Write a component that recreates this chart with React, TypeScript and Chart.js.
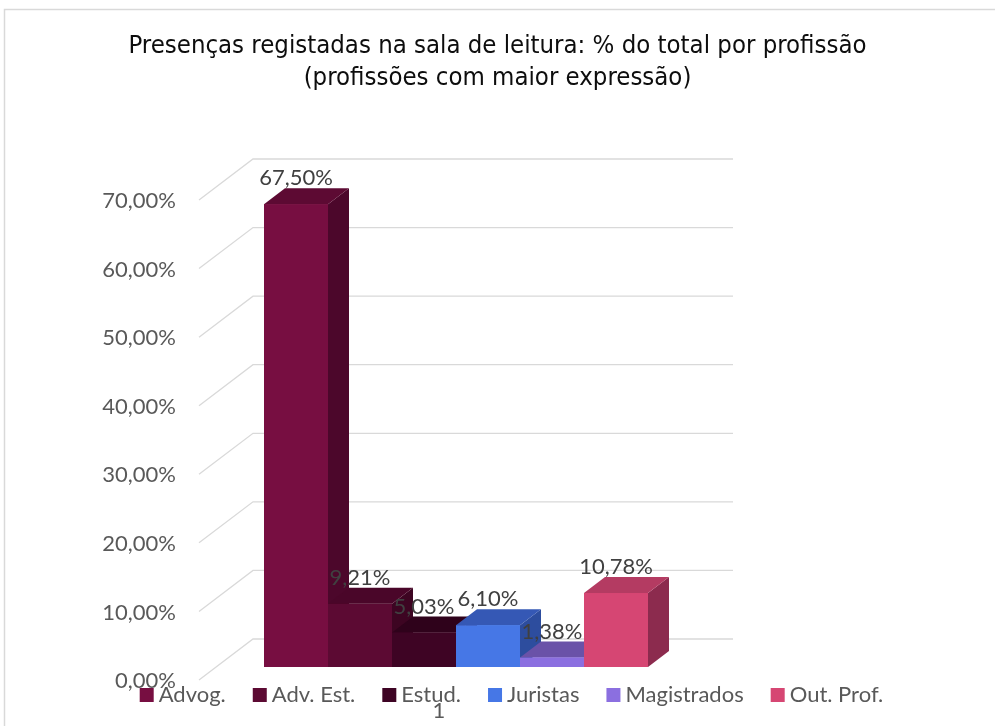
import React, { useEffect, useRef } from 'react';
import { Chart, registerables } from 'chart.js';

Chart.register(...registerables);

// ---------- data ----------
const TITLE_LINES = [
  'Presenças registadas na sala de leitura: % do total por profissão',
  '(profissões com maior expressão)',
];
const CATEGORIES = ['1'];
const SERIES_NAMES = ['Advog.', 'Adv. Est.', 'Estud.', 'Juristas', 'Magistrados', 'Out. Prof.'];
const SERIES_VALUES = [67.5, 9.21, 5.03, 6.1, 1.38, 10.78];
const Y_MIN = 0;
const Y_MAX = 70;
const Y_STEP = 10;

// ---------- styles ----------
const FRONT_COLORS = ['#770e41', '#5c0a33', '#3e0424', '#4677e6', '#8b6fe0', '#d64673'];
const TOP_COLORS = ['#5d0a33', '#4a0629', '#2f021b', '#3558b5', '#6a52a8', '#b43b62'];
const SIDE_COLORS = ['#4c072b', '#3d0522', '#250115', '#2d4d9e', '#5a4590', '#8c2b4e'];

const LABEL_FONT = '22px Lato';
const TITLE_FAMILY = "'DejaVu Sans Condensed', 'DejaVu Sans', sans-serif";

// 3D geometry (pixels)
const DEPTH_X = 21;
const DEPTH_Y = 16;
const BACK_X = 37;
const BACK_Y = 28;
const FRONT_X = -17;
const FRONT_Y = 13;

const fmt = (v: number) => v.toFixed(2).replace('.', ',') + '%';

const threeDPlugin = {
  id: 'threeD',
  beforeDraw(chart: any) {
    const ctx = chart.ctx;
    ctx.save();
    ctx.strokeStyle = '#d9d9d9';
    ctx.lineWidth = 1.5;
    ctx.strokeRect(4.5, 9.5, 1200, 1000);
    ctx.restore();
  },
  beforeDatasetsDraw(chart: any) {
    const { ctx, chartArea } = chart;
    const y = chart.scales.y;
    ctx.save();
    ctx.strokeStyle = '#d9d9d9';
    ctx.lineWidth = 1.3;
    y.ticks.forEach((t: any) => {
      const py = y.getPixelForValue(t.value);
      ctx.beginPath();
      ctx.moveTo(chartArea.left + FRONT_X, py + FRONT_Y);
      ctx.lineTo(chartArea.left + BACK_X, py - BACK_Y);
      ctx.lineTo(chartArea.right + BACK_X, py - BACK_Y);
      ctx.stroke();
    });
    ctx.restore();
  },
  afterDatasetsDraw(chart: any) {
    const ctx = chart.ctx;
    const n = chart.data.datasets.length;
    ctx.save();
    const bars: any[] = [];
    for (let i = 0; i < n; i++) {
      const meta = chart.getDatasetMeta(i);
      meta.data.forEach((bar: any) => {
        const p = bar.getProps(['x', 'y', 'base', 'width'], true);
        bars.push({ i, ...p });
      });
    }
    bars.sort((a, b) => a.x - b.x);
    bars.forEach(({ i, x, y, base, width }) => {
      const l = x - width / 2;
      const r = x + width / 2;
      ctx.fillStyle = SIDE_COLORS[i];
      ctx.beginPath();
      ctx.moveTo(r, y);
      ctx.lineTo(r + DEPTH_X, y - DEPTH_Y);
      ctx.lineTo(r + DEPTH_X, base - DEPTH_Y);
      ctx.lineTo(r, base);
      ctx.closePath();
      ctx.fill();
      ctx.fillStyle = TOP_COLORS[i];
      ctx.beginPath();
      ctx.moveTo(l, y);
      ctx.lineTo(l + DEPTH_X, y - DEPTH_Y);
      ctx.lineTo(r + DEPTH_X, y - DEPTH_Y);
      ctx.lineTo(r, y);
      ctx.closePath();
      ctx.fill();
      ctx.fillStyle = FRONT_COLORS[i];
      ctx.fillRect(l, y, width, base - y);
    });
    // data labels
    ctx.font = LABEL_FONT;
    ctx.fillStyle = '#404040';
    ctx.textAlign = 'center';
    ctx.textBaseline = 'alphabetic';
    bars.forEach(({ i, x, y }) => {
      ctx.fillText(fmt(SERIES_VALUES[i]), x, y - 19);
    });
    ctx.restore();
  },
  afterDraw(chart: any) {
    const { ctx, chartArea } = chart;
    ctx.save();
    // category label
    ctx.font = LABEL_FONT;
    ctx.fillStyle = '#595959';
    ctx.textAlign = 'center';
    ctx.textBaseline = 'alphabetic';
    const cx = chart.scales.x.getPixelForValue(0) + FRONT_X;
    ctx.fillText(CATEGORIES[0], cx, chartArea.bottom + 51);
    // legend
    const box = 14;
    const gapText = 5;
    const gapItem = 27;
    const widths = SERIES_NAMES.map((s) => ctx.measureText(s).width);
    const total = widths.reduce((a, w) => a + box + gapText + w, 0) + gapItem * (SERIES_NAMES.length - 1);
    let lx = 511.5 - total / 2;
    const markerTop = chartArea.bottom + 21;
    ctx.textAlign = 'left';
    SERIES_NAMES.forEach((name, i) => {
      ctx.fillStyle = FRONT_COLORS[i];
      ctx.fillRect(lx, markerTop, box, box);
      ctx.fillStyle = '#595959';
      ctx.fillText(name, lx + box + gapText, markerTop + box);
      lx += box + gapText + widths[i] + gapItem;
    });
    ctx.restore();
  },
};

export default function App() {
  const ref = useRef<HTMLCanvasElement | null>(null);
  useEffect(() => {
    if (!ref.current) return;
    const chart = new Chart(ref.current, {
      type: 'bar',
      data: {
        labels: CATEGORIES,
        datasets: SERIES_NAMES.map((name, i) => ({
          label: name,
          data: [SERIES_VALUES[i]],
          backgroundColor: FRONT_COLORS[i],
          borderWidth: 0,
          categoryPercentage: 0.8,
          barPercentage: 1,
        })),
      },
      options: {
        animation: false,
        responsive: false,
        layout: { padding: 0 },
        plugins: {
          legend: { display: false },
          tooltip: { enabled: false },
          title: {
            display: true,
            text: TITLE_LINES,
            color: '#0d0d0d',
            font: { family: TITLE_FAMILY, size: 25.5, weight: 'normal', lineHeight: 32 / 25.5 },
            padding: { top: 30, bottom: 93 },
          },
        },
        scales: {
          x: {
            type: 'category',
            grid: { display: false, drawTicks: false },
            border: { display: false },
            ticks: { display: false },
            afterFit: (s: any) => {
              s.height = 59;
            },
          },
          y: {
            type: 'linear',
            min: Y_MIN,
            max: Y_MAX,
            grid: { display: false, drawTicks: false },
            border: { display: false },
            ticks: {
              stepSize: Y_STEP,
              padding: 40,
              labelOffset: 14,
              color: '#595959',
              font: { family: 'Lato', size: 22 },
              callback: (v: any) => fmt(Number(v)),
            },
            afterFit: (s: any) => {
              s.width = 216;
            },
          },
          yRight: {
            type: 'linear',
            position: 'right',
            grid: { display: false, drawTicks: false },
            border: { display: false },
            ticks: { display: false },
            afterFit: (s: any) => {
              s.width = 299;
            },
          },
        },
      } as any,
      plugins: [threeDPlugin],
    });
    return () => chart.destroy();
  }, []);
  return (
    <div style={{ position: 'fixed', left: 0, top: 0, width: 995, height: 726, background: '#fff' }}>
      <canvas ref={ref} width={995} height={726} style={{ display: 'block' }} />
    </div>
  );
}
